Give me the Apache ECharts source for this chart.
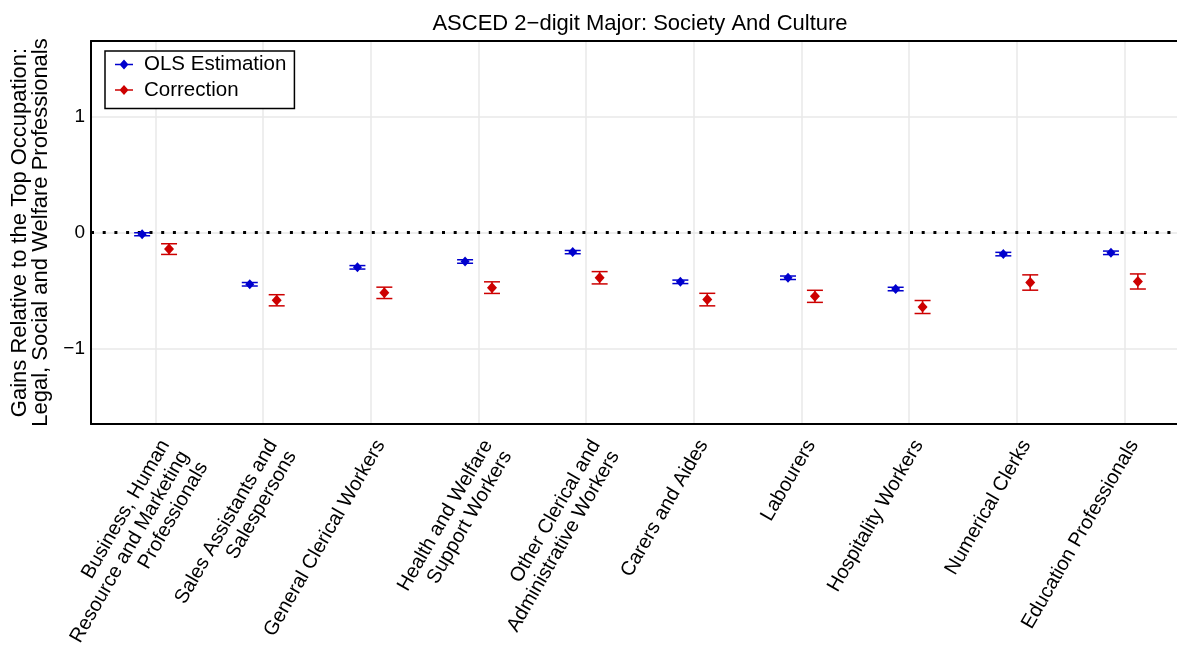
<!DOCTYPE html>
<html>
<head>
<meta charset="utf-8">
<title>ASCED 2-digit Major: Society And Culture</title>
<script src="https://cdn.jsdelivr.net/npm/echarts@6/dist/echarts.min.js"></script>
<style>
  html, body { margin: 0; padding: 0; background: #fff; }
  #chart { width: 1177px; height: 646px; }
</style>
</head>
<body>
<div id="chart"></div>
<script>
// Occupations compared against the top occupation (Legal, Social and Welfare Professionals)
const categories = [
  'Business, Human\nResource and Marketing\nProfessionals',
  'Sales Assistants and\nSalespersons',
  'General Clerical Workers',
  'Health and Welfare\nSupport Workers',
  'Other Clerical and\nAdministrative Workers',
  'Carers and Aides',
  'Labourers',
  'Hospitality Workers',
  'Numerical Clerks',
  'Education Professionals'
];

// OLS estimates with their confidence bounds
const olsEst  = [-0.015, -0.446, -0.300, -0.250, -0.169, -0.425, -0.390, -0.487, -0.186, -0.175];
const olsLow  = [-0.028, -0.461, -0.315, -0.265, -0.183, -0.440, -0.405, -0.502, -0.201, -0.190];
const olsHigh = [-0.002, -0.431, -0.285, -0.235, -0.155, -0.410, -0.375, -0.472, -0.171, -0.160];

// Corrected estimates with their confidence bounds
const corrEst  = [-0.143, -0.584, -0.520, -0.475, -0.390, -0.578, -0.550, -0.642, -0.431, -0.422];
const corrLow  = [-0.189, -0.632, -0.569, -0.525, -0.443, -0.632, -0.602, -0.698, -0.497, -0.487];
const corrHigh = [-0.097, -0.536, -0.471, -0.425, -0.337, -0.524, -0.498, -0.586, -0.365, -0.357];

const yTicks = [-1, 0, 1];
const seriesNames = ['OLS Estimation', 'Correction'];

const FONT = 'Liberation Sans, Arial, Helvetica, sans-serif';
const BLUE = '#0000cd';
const RED = '#cd0000';
const DODGE = 0.125;     // horizontal shift of each series within its category
const CAP_HALF = 8;      // half width of error bar caps, px

const xPositions = categories.map((_, i) => i + 1);

function points(est, shift) {
  return est.map((v, i) => [xPositions[i] + shift, v]);
}
function bars(low, high, shift) {
  return low.map((v, i) => [xPositions[i] + shift, v, high[i]]);
}

function renderErrorBar(params, api) {
  const x = api.value(0);
  const pLo = api.coord([x, api.value(1)]);
  const pHi = api.coord([x, api.value(2)]);
  const style = { stroke: api.visual('color'), lineWidth: 1.5, fill: null };
  return {
    type: 'group',
    children: [
      { type: 'line', shape: { x1: pLo[0], y1: pLo[1], x2: pHi[0], y2: pHi[1] }, style },
      { type: 'line', shape: { x1: pLo[0] - CAP_HALF, y1: pLo[1], x2: pLo[0] + CAP_HALF, y2: pLo[1] }, style },
      { type: 'line', shape: { x1: pHi[0] - CAP_HALF, y1: pHi[1], x2: pHi[0] + CAP_HALF, y2: pHi[1] }, style }
    ]
  };
}

// legend glyph: short horizontal line through a diamond
const legendIcon = 'path://M0,4.3L18,4.3L18,5.7L0,5.7Z M9,0L13.5,5L9,10L4.5,5Z';

const gridLine = { show: true, lineStyle: { color: '#e9e9e9', width: 1.5 } };
const frameLine = { show: true, onZero: false, lineStyle: { color: '#000', width: 2 } };

const chart = echarts.init(document.getElementById('chart'), null, { renderer: 'canvas' });

chart.setOption({
  animation: false,
  backgroundColor: '#fff',
  textStyle: { fontFamily: FONT },
  title: {
    text: 'ASCED 2\u2212digit Major: Society And Culture',
    left: 640,
    top: 13,
    padding: 0,
    textAlign: 'center',
    textVerticalAlign: 'top',
    textStyle: { fontFamily: FONT, fontSize: 22, fontWeight: 'normal', color: '#000' }
  },
  legend: {
    orient: 'vertical',
    left: 105,
    top: 51,
    padding: [3, 8, 8, 10],
    itemGap: 4.5,
    itemWidth: 18,
    itemHeight: 10,
    backgroundColor: '#fff',
    borderColor: '#000',
    borderWidth: 1.5,
    borderRadius: 0,
    data: seriesNames.map(name => ({ name, icon: legendIcon })),
    textStyle: { fontFamily: FONT, fontSize: 20.5, color: '#000', padding: [0, 0, 0, 6] },
    selectedMode: false
  },
  grid: {
    left: 91,
    right: -12,
    top: 41,
    bottom: 222,
    containLabel: false,
    outerBoundsMode: 'none'
  },
  xAxis: [
    {
      type: 'value',
      position: 'bottom',
      min: 0.4,
      max: 10.6,
      axisLine: frameLine,
      axisTick: { show: false, customValues: xPositions },
      splitLine: gridLine,
      axisLabel: {
        customValues: xPositions,
        formatter: v => categories[Math.round(v) - 1] || '',
        rotate: 60,
        align: 'right',
        verticalAlign: 'top',
        margin: 12,
        fontFamily: FONT,
        fontSize: 20,
        lineHeight: 22,
        color: '#000',
        hideOverlap: false
      }
    },
    {
      type: 'value',
      position: 'top',
      min: 0.4,
      max: 10.6,
      axisLine: frameLine,
      axisTick: { show: false },
      axisLabel: { show: false },
      splitLine: { show: false }
    }
  ],
  yAxis: {
    type: 'value',
    min: -1.65,
    max: 1.65,
    axisLine: frameLine,
    axisTick: { show: false, customValues: yTicks },
    splitLine: gridLine,
    axisLabel: {
      customValues: yTicks,
      formatter: v => (v < 0 ? '\u2212' + Math.abs(v) : String(v)),
      margin: 6,
      fontFamily: FONT,
      fontSize: 19,
      color: '#000'
    },
    name: 'Gains Relative to the Top Occupation:\nLegal, Social and Welfare Professionals',
    nameLocation: 'middle',
    nameGap: 36,
    nameTextStyle: { fontFamily: FONT, fontSize: 22, lineHeight: 21, color: '#000', align: 'center' }
  },
  series: [
    {
      name: 'OLS bounds',
      type: 'custom',
      xAxisIndex: 0,
      renderItem: renderErrorBar,
      itemStyle: { color: BLUE },
      encode: { x: 0, y: [1, 2] },
      data: bars(olsLow, olsHigh, -DODGE),
      z: 3,
      silent: true
    },
    {
      name: 'Correction bounds',
      type: 'custom',
      xAxisIndex: 0,
      renderItem: renderErrorBar,
      itemStyle: { color: RED },
      encode: { x: 0, y: [1, 2] },
      data: bars(corrLow, corrHigh, DODGE),
      z: 3,
      silent: true
    },
    {
      name: seriesNames[0],
      type: 'scatter',
      xAxisIndex: 0,
      symbol: 'diamond',
      symbolSize: [9, 10],
      itemStyle: { color: BLUE, opacity: 1 },
      data: points(olsEst, -DODGE),
      z: 4,
      markLine: {
        silent: true,
        symbol: 'none',
        label: { show: false },
        lineStyle: { color: '#000', width: 3, type: [3, 8.7], opacity: 1 },
        emphasis: { disabled: true },
        data: [{ yAxis: 0 }],
        z: 2
      }
    },
    {
      name: seriesNames[1],
      type: 'scatter',
      xAxisIndex: 0,
      symbol: 'diamond',
      symbolSize: [10, 11],
      itemStyle: { color: RED, opacity: 1 },
      data: points(corrEst, DODGE),
      z: 4
    }
  ]
});
</script>
</body>
</html>
